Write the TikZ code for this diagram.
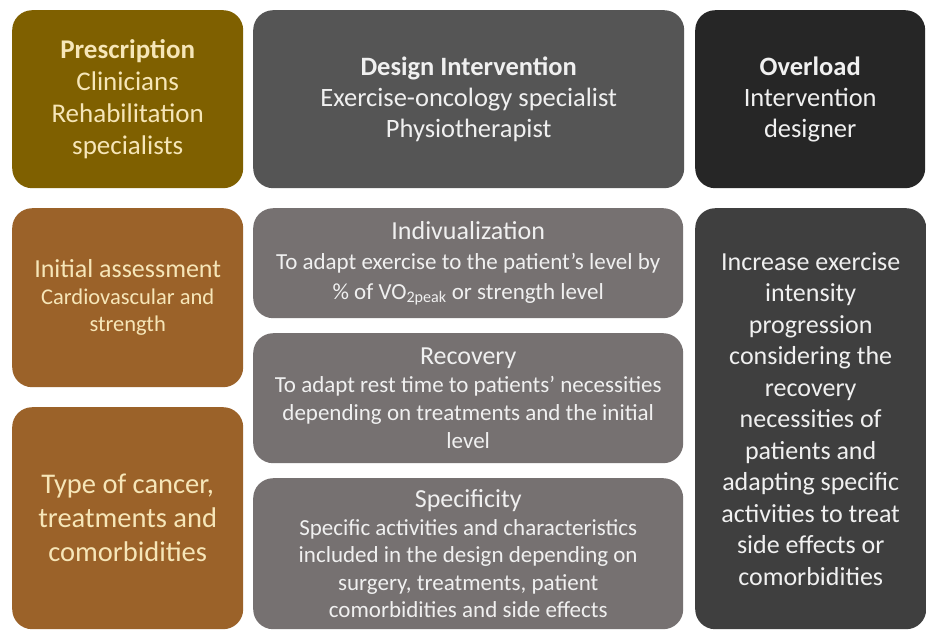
\documentclass[tikz,border=0pt]{standalone}
\usepackage{fontspec}
\setmainfont{Carlito}
\definecolor{presc}{HTML}{7F6000}
\definecolor{brownbox}{HTML}{9B6229}
\definecolor{design}{HTML}{555555}
\definecolor{overtop}{HTML}{262626}
\definecolor{midgray}{HTML}{767171}
\definecolor{overbox}{HTML}{3F3F3F}
\definecolor{cream}{HTML}{F6E6B8}
\definecolor{lighttext}{HTML}{F0F0F0}
\newcommand{\fP}{\fontsize{27}{32}\selectfont}
\newcommand{\fD}{\fontsize{26.5}{31}\selectfont}
\newcommand{\fR}{\fontsize{26}{31.5}\selectfont}
\newcommand{\fY}{\fontsize{28.5}{34}\selectfont}
\newcommand{\fI}{\fontsize{26}{27}\selectfont}
\newcommand{\fC}{\fontsize{22.5}{27}\selectfont}
\newcommand{\fT}{\fontsize{26}{30}\selectfont}
\newcommand{\fB}{\fontsize{23}{30}\selectfont}
\newcommand{\fE}{\fontsize{23}{28}\selectfont}
\newcommand{\fS}{\fontsize{23}{27.5}\selectfont}
\tikzset{
  box/.style={rounded corners=20pt, inner sep=0pt, align=center, draw=none},
}
\begin{document}
\begin{tikzpicture}[x=1pt,y=-1pt]
\useasboundingbox[fill=white] (0,0) rectangle (926,630);
% top row
\node[box, font=\fP, fill=presc, text=cream, minimum width=231pt, minimum height=178pt, anchor=north west] (presc) at (12,10)
  {\textbf{Prescription}\\Clinicians\\Rehabilitation\\specialists};
\node[box, font=\fD, fill=design, text=lighttext, minimum width=431pt, minimum height=178pt, anchor=north west] (design) at (253,10)
  {\textbf{Design Intervention}\\Exercise-oncology specialist\\Physiotherapist};
\node[box, font=\fD, fill=overtop, text=lighttext, minimum width=230pt, minimum height=178pt, anchor=north west] (overtop) at (695,10)
  {\textbf{Overload}\\Intervention\\designer};
% left column
\node[box, font=\fC, fill=brownbox, text=cream, minimum width=231pt, minimum height=179pt, anchor=north west] (init) at (12,208)
  {\fI Initial assessment\\\fC Cardiovascular and\\\fC strength};
\node[box, font=\fY, fill=brownbox, text=cream, minimum width=231pt, minimum height=222pt, anchor=north west] (type) at (12,407)
  {Type of cancer,\\treatments and\\comorbidities};
% middle column
\node[box, font=\fB, fill=midgray, text=lighttext, minimum width=430pt, minimum height=110pt, anchor=north west] (indiv) at (253,208)
  {\fT Indivualization\\\fB To adapt exercise to the patient’s level by\\\fB \% of VO\textsubscript{2peak} or strength level};
\node[box, font=\fE, fill=midgray, text=lighttext, minimum width=430pt, minimum height=130pt, anchor=north west] (recov) at (253,333)
  {\fT Recovery\\\fE To adapt rest time to patients’ necessities\\\fE depending on treatments and the initial\\\fE level};
\node[box, font=\fS, fill=midgray, text=lighttext, minimum width=430pt, minimum height=151pt, anchor=north west] (spec) at (253,478)
  {\fT Specificity\\\fS Specific activities and characteristics\\\fS included in the design depending on\\\fS surgery, treatments, patient\\\fS comorbidities and side effects};
% right column
\node[box, font=\fR, fill=overbox, text=lighttext, minimum width=231pt, minimum height=421pt, anchor=north west] (over) at (695,208)
  {Increase exercise\\intensity\\progression\\considering the\\recovery\\necessities of\\patients and\\adapting specific\\activities to treat\\side effects or\\comorbidities};
\end{tikzpicture}
\end{document}
